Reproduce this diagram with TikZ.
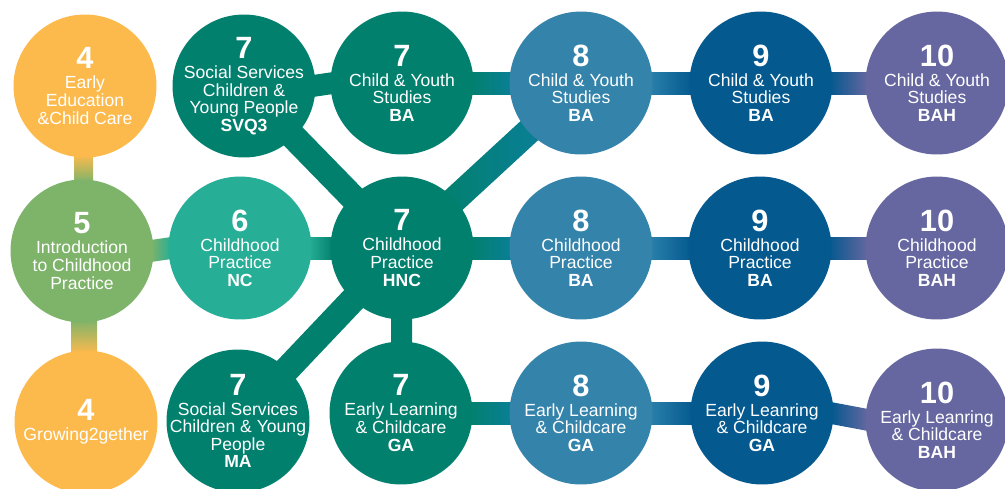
\documentclass[tikz,border=0pt]{standalone}
\usepackage{fontspec}
\setmainfont{Liberation Sans}
\usetikzlibrary{calc,backgrounds}
\definecolor{cyel}{HTML}{FCBA4D}
\definecolor{cgrn}{HTML}{7EB36A}
\definecolor{cteal}{HTML}{26AE96}
\definecolor{cdteal}{HTML}{02806E}
\definecolor{cblue}{HTML}{3483AB}
\definecolor{cdblue}{HTML}{04598F}
\definecolor{cpurp}{HTML}{6667A0}
\definecolor{ctb}{HTML}{0A7F97}
\definecolor{cbl}{HTML}{2A80AA}
\newcommand\lvl[1]{{\fontsize{17.5}{17.5}\selectfont\bfseries #1}\\[1.4pt]}
\newcommand\connH[4]{\path[left color=#3,right color=#4]
  ($(#1.east)+(-3,-11)$) -- ($(#2.west)+(3,-11)$) -- ($(#2.west)+(3,11)$) -- ($(#1.east)+(-3,11)$) -- cycle;}
\newcommand\connV[4]{\path[top color=#3,bottom color=#4]
  ($(#1.south)+(-11,-3)$) rectangle ($(#2.north)+(11,3)$);}
\newcommand\connD[4]{%
  \coordinate (pA) at ($(#1)!1.3cm!(#2)$);
  \coordinate (pB) at ($(#2)!1.3cm!(#1)$);
  \path[left color=#3,right color=#4] ($(pA)!0.26cm!90:(pB)$) -- ($(pA)!0.26cm!-90:(pB)$)
    -- ($(pB)!0.26cm!90:(pA)$) -- ($(pB)!0.26cm!-90:(pA)$) -- cycle;}
\begin{document}
\begin{tikzpicture}[x=0.02cm,y=-0.02cm,
  circ/.style={circle,minimum size=2.86cm,inner sep=-20pt,text=white,align=center,
    font=\fontsize{10}{10}\selectfont}]
\useasboundingbox (0,0) rectangle (1005,488);
% column 1
\node[circ,fill=cyel] (a1) at (85,86) {\lvl{4}Early\\Education\\\&Child Care};
\node[circ,fill=cgrn] (a2) at (82,251) {\lvl{5}Introduction\\to Childhood\\Practice};
\node[circ,fill=cyel] (a3) at (86,422) {\lvl{4}Growing2gether};
% column 2
\node[circ,fill=cdteal] (b1) at (244,86) {\lvl{7}Social Services\\Children \&\\Young People\\\textbf{SVQ3}};
\node[circ,fill=cteal] (b2) at (240,248) {\lvl{6}Childhood\\Practice\\\textbf{NC}};
\node[circ,fill=cdteal] (b3) at (238,421) {\lvl{7}Social Services\\Children \& Young\\People\\\textbf{MA}};
% column 3
\node[circ,fill=cdteal] (c1) at (402,83) {\lvl{7}Child \& Youth\\Studies\\\textbf{BA}};
\node[circ,fill=cdteal] (c2) at (402,248) {\lvl{7}Childhood\\Practice\\\textbf{HNC}};
\node[circ,fill=cdteal] (c3) at (401,413) {\lvl{7}Early Learning\\\& Childcare\\\textbf{GA}};
% column 4
\node[circ,fill=cblue] (d1) at (581,83) {\lvl{8}Child \& Youth\\Studies\\\textbf{BA}};
\node[circ,fill=cblue] (d2) at (581,248) {\lvl{8}Childhood\\Practice\\\textbf{BA}};
\node[circ,fill=cblue] (d3) at (581,413) {\lvl{8}Early Learning\\\& Childcare\\\textbf{GA}};
% column 5
\node[circ,fill=cdblue] (e1) at (761,83) {\lvl{9}Child \& Youth\\Studies\\\textbf{BA}};
\node[circ,fill=cdblue] (e2) at (760,248) {\lvl{9}Childhood\\Practice\\\textbf{BA}};
\node[circ,fill=cdblue] (e3) at (762,413) {\lvl{9}Early Leanring\\\& Childcare\\\textbf{GA}};
% column 6
\node[circ,fill=cpurp] (f1) at (937,83) {\lvl{10}Child \& Youth\\Studies\\\textbf{BAH}};
\node[circ,fill=cpurp] (f2) at (937,248) {\lvl{10}Childhood\\Practice\\\textbf{BAH}};
\node[circ,fill=cpurp] (f3) at (937,420) {\lvl{10}Early Leanring\\\& Childcare\\\textbf{BAH}};
\begin{scope}[on background layer]
  \connV{a1}{a2}{cyel}{cgrn}
  \connV{a2}{a3}{cgrn}{cyel}
  \connH{a2}{b2}{cgrn}{cteal}
  \connH{b2}{c2}{cteal}{cdteal}
  \connH{b1}{c1}{cdteal}{cdteal}
  \connD{b1}{c2}{cdteal}{cdteal}
  \connD{b3}{c2}{cdteal}{cdteal}
  \connD{c2}{d1}{cdteal}{ctb}
  \connV{c2}{c3}{cdteal}{cdteal}
  \connH{c1}{d1}{cdteal}{ctb}
  \connH{c2}{d2}{cdteal}{ctb}
  \connH{c3}{d3}{cdteal}{ctb}
  \connH{d1}{e1}{cbl}{cdblue}
  \connH{d2}{e2}{cbl}{cdblue}
  \connH{d3}{e3}{cbl}{cdblue}
  \connH{e1}{f1}{cdblue}{cpurp}
  \connH{e2}{f2}{cdblue}{cpurp}
  \connH{e3}{f3}{cdblue}{cpurp}
\end{scope}
\end{tikzpicture}
\end{document}
